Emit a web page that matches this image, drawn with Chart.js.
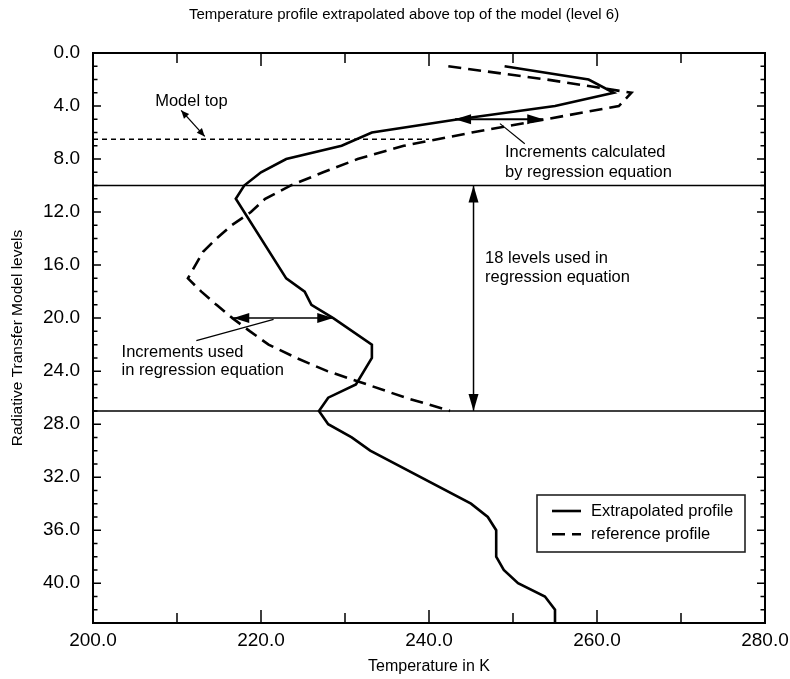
<!DOCTYPE html>
<html>
<head>
<meta charset="utf-8">
<title>Temperature profile extrapolated above top of the model</title>
<script src="https://cdn.jsdelivr.net/npm/chart.js@4.4.0/dist/chart.umd.min.js"></script>
<style>
    html, body { margin: 0; padding: 0; background: #fff; }
</style>
</head>
<body>
<canvas id="chart-profile" width="790" height="679"></canvas>
<script>
// extrapolated profile (solid)
const extrapLevels = [1, 2, 3, 4, 5, 6, 7, 8, 9, 10, 11, 17, 18, 19, 20, 22, 23, 25, 26, 27, 28, 29, 30, 34, 35, 36, 37, 38, 39, 40, 41, 42, 43];
const extrapTemps = [249.0, 259.0, 262.0, 255.0, 243.5, 233.2, 229.6, 223.0, 220.0, 218.0, 217.0, 223.0, 225.2, 226.0, 228.6, 233.2, 233.2, 231.3, 228.0, 226.9, 228.0, 230.8, 233.0, 245.0, 247.0, 248.0, 248.0, 248.0, 248.9, 250.6, 253.8, 255.0, 255.0];

// reference profile (dashed)
const refLevels = [1, 2, 3, 4, 5, 6, 7, 8, 9, 10, 11, 12, 13, 14, 15, 17, 18, 19, 20, 21, 22, 23, 24, 25, 26, 27];
const refTemps = [242.3, 254.0, 264.1, 262.6, 253.9, 245.1, 237.0, 231.5, 227.4, 223.5, 220.5, 218.8, 216.5, 214.7, 213.1, 211.3, 212.9, 214.7, 216.6, 218.7, 220.9, 224.2, 227.9, 232.6, 237.2, 242.5];

// horizontal marker lines
const modelTopLevel = 6.5;
const modelTopTemps = [200, 240];
const regressionLevels = [10, 27];
const tempRange = [200, 280];
const levelRange = [0, 43];

// annotations, in data units [temperature, level]
const arrows = [
    { from: [243.1, 5], to: [253.6, 5], width: 2, head: 16, half: 5 },
    { from: [216.7, 20], to: [228.6, 20], width: 1.5, head: 16, half: 5 },
    { from: [245.3, 10], to: [245.3, 27], width: 1.5, head: 17, half: 5 },
    { from: [210.5, 4.33], to: [213.3, 6.29], width: 1.3, head: 8, half: 3.5 }
];
const leaders = [
    [[248.45, 5.33], [251.4, 6.84]],
    [[221.5, 20.1], [212.3, 21.7]]
];
const notes = [
    { text: 'Model top', at: [207.4, 3.64] },
    { text: 'Increments calculated', at: [249.05, 7.47] },
    { text: 'by regression equation', at: [249.05, 8.98] },
    { text: '18 levels used in', at: [246.67, 15.5] },
    { text: 'regression equation', at: [246.67, 16.9] },
    { text: 'Increments used', at: [203.4, 22.57] },
    { text: 'in regression equation', at: [203.4, 23.95] }
];

const FONT = '"Liberation Sans", Arial, Helvetica, sans-serif';
Chart.defaults.font.family = FONT;
Chart.defaults.color = '#000';

function toPoints(levels, temps) {
    return levels.map((lev, i) => ({ x: temps[i], y: lev }));
}

function drawHead(ctx, x1, y1, x2, y2, len, half) {
    const ang = Math.atan2(y2 - y1, x2 - x1);
    ctx.beginPath();
    ctx.moveTo(x2, y2);
    ctx.lineTo(x2 - len * Math.cos(ang) + half * Math.sin(ang), y2 - len * Math.sin(ang) - half * Math.cos(ang));
    ctx.lineTo(x2 - len * Math.cos(ang) - half * Math.sin(ang), y2 - len * Math.sin(ang) + half * Math.cos(ang));
    ctx.closePath();
    ctx.fill();
}

const profileDecor = {
    id: 'profileDecor',
    afterDatasetsDraw(chart) {
        const { ctx, chartArea: area, scales: { x, y } } = chart;
        const px = v => x.getPixelForValue(v);
        const py = v => y.getPixelForValue(v);
        ctx.save();
        ctx.strokeStyle = '#000';
        ctx.fillStyle = '#000';
        ctx.setLineDash([]);

        // frame
        ctx.lineWidth = 2;
        ctx.strokeRect(area.left, area.top, area.right - area.left, area.bottom - area.top);

        // inward ticks on all four sides
        ctx.lineWidth = 1.5;
        ctx.beginPath();
        x.ticks.forEach(t => {
            const xx = px(t.value);
            const len = t.value % 20 === 0 ? 13 : 10;
            ctx.moveTo(xx, area.bottom); ctx.lineTo(xx, area.bottom - len);
            ctx.moveTo(xx, area.top); ctx.lineTo(xx, area.top + len);
        });
        y.ticks.forEach(t => {
            const yy = py(t.value);
            const len = t.value % 4 === 0 ? 8 : 4.5;
            ctx.moveTo(area.left, yy); ctx.lineTo(area.left + len, yy);
            ctx.moveTo(area.right, yy); ctx.lineTo(area.right - len, yy);
        });
        ctx.stroke();

        // arrows
        arrows.forEach(a => {
            const x1 = px(a.from[0]), y1 = py(a.from[1]);
            const x2 = px(a.to[0]), y2 = py(a.to[1]);
            ctx.lineWidth = a.width;
            ctx.beginPath();
            ctx.moveTo(x1, y1);
            ctx.lineTo(x2, y2);
            ctx.stroke();
            drawHead(ctx, x1, y1, x2, y2, a.head, a.half);
            drawHead(ctx, x2, y2, x1, y1, a.head, a.half);
        });

        // leader lines
        ctx.lineWidth = 1.2;
        leaders.forEach(l => {
            ctx.beginPath();
            ctx.moveTo(px(l[0][0]), py(l[0][1]));
            ctx.lineTo(px(l[1][0]), py(l[1][1]));
            ctx.stroke();
        });

        // notes
        ctx.font = '16.5px ' + FONT;
        ctx.textAlign = 'left';
        ctx.textBaseline = 'middle';
        notes.forEach(n => ctx.fillText(n.text, px(n.at[0]), py(n.at[1])));

        // legend
        const lx = area.right - 228, ly = area.bottom - 128, lw = 208, lh = 57;
        ctx.fillStyle = '#fff';
        ctx.fillRect(lx, ly, lw, lh);
        ctx.strokeStyle = '#222';
        ctx.lineWidth = 1.6;
        ctx.strokeRect(lx, ly, lw, lh);
        ctx.fillStyle = '#000';
        ctx.strokeStyle = '#000';
        chart.data.datasets.slice(0, 2).forEach((ds, i) => {
            const rowY = ly + 16 + i * 23.3;
            ctx.lineWidth = 2.6;
            ctx.setLineDash(ds.borderDash || []);
            ctx.beginPath();
            ctx.moveTo(lx + 15, rowY);
            ctx.lineTo(lx + 44, rowY);
            ctx.stroke();
            ctx.setLineDash([]);
            ctx.fillText(ds.label, lx + 54, rowY);
        });

        // title
        ctx.font = '15px ' + FONT;
        ctx.textAlign = 'center';
        ctx.fillText('Temperature profile extrapolated above top of the model (level 6)', (area.left + area.right) / 2 - 25, 15);
        ctx.restore();
    }
};

document.addEventListener('DOMContentLoaded', function () {
    const ctxProfile = document.getElementById('chart-profile').getContext('2d');

    const hLine = (level, temps, width, dash) => ({
        label: '',
        data: temps.map(t => ({ x: t, y: level })),
        borderColor: '#000',
        borderWidth: width,
        borderDash: dash,
        pointRadius: 0,
        fill: false
    });

    new Chart(ctxProfile, {
        type: 'line',
        data: {
            datasets: [{
                label: 'Extrapolated profile',
                data: toPoints(extrapLevels, extrapTemps),
                borderColor: '#000',
                borderWidth: 2.6,
                borderDash: [],
                pointRadius: 0,
                fill: false
            }, {
                label: 'reference profile',
                data: toPoints(refLevels, refTemps),
                borderColor: '#000',
                borderWidth: 2.6,
                borderDash: [13, 7],
                pointRadius: 0,
                fill: false
            },
            hLine(modelTopLevel, modelTopTemps, 1.5, [5, 4]),
            hLine(regressionLevels[0], tempRange, 1.5, []),
            hLine(regressionLevels[1], tempRange, 1.5, [])]
        },
        options: {
            responsive: false,
            animation: false,
            events: [],
            layout: { padding: { top: 53, right: 25, left: 0, bottom: 0 } },
            plugins: {
                legend: { display: false },
                title: { display: false },
                tooltip: { enabled: false }
            },
            scales: {
                x: {
                    type: 'linear',
                    min: tempRange[0],
                    max: tempRange[1],
                    grid: { display: false, drawTicks: false },
                    border: { display: false },
                    ticks: {
                        stepSize: 10,
                        autoSkip: false,
                        maxRotation: 0,
                        padding: 6,
                        font: { size: 19 },
                        callback: v => (v % 20 === 0 ? v.toFixed(1) : '')
                    },
                    title: {
                        display: true,
                        text: 'Temperature in K',
                        font: { size: 16 },
                        padding: { top: 0, bottom: 2.5 }
                    },
                    afterFit: scale => {
                        scale.height = 56;
                        scale.paddingLeft = 0;
                        scale.paddingRight = 0;
                    }
                },
                y: {
                    type: 'linear',
                    reverse: true,
                    min: levelRange[0],
                    max: levelRange[1],
                    grid: { display: false, drawTicks: false },
                    border: { display: false },
                    ticks: {
                        stepSize: 1,
                        autoSkip: false,
                        padding: 13,
                        font: { size: 19 },
                        callback: v => (v % 4 === 0 ? v.toFixed(1) : '')
                    },
                    title: {
                        display: true,
                        text: 'Radiative Transfer Model levels',
                        font: { size: 15.5 },
                        padding: { top: 8, bottom: 0 }
                    },
                    afterFit: scale => {
                        scale.width = 93;
                        scale.paddingTop = 0;
                        scale.paddingBottom = 0;
                    }
                }
            }
        },
        plugins: [profileDecor]
    });
});
</script>
</body>
</html>
